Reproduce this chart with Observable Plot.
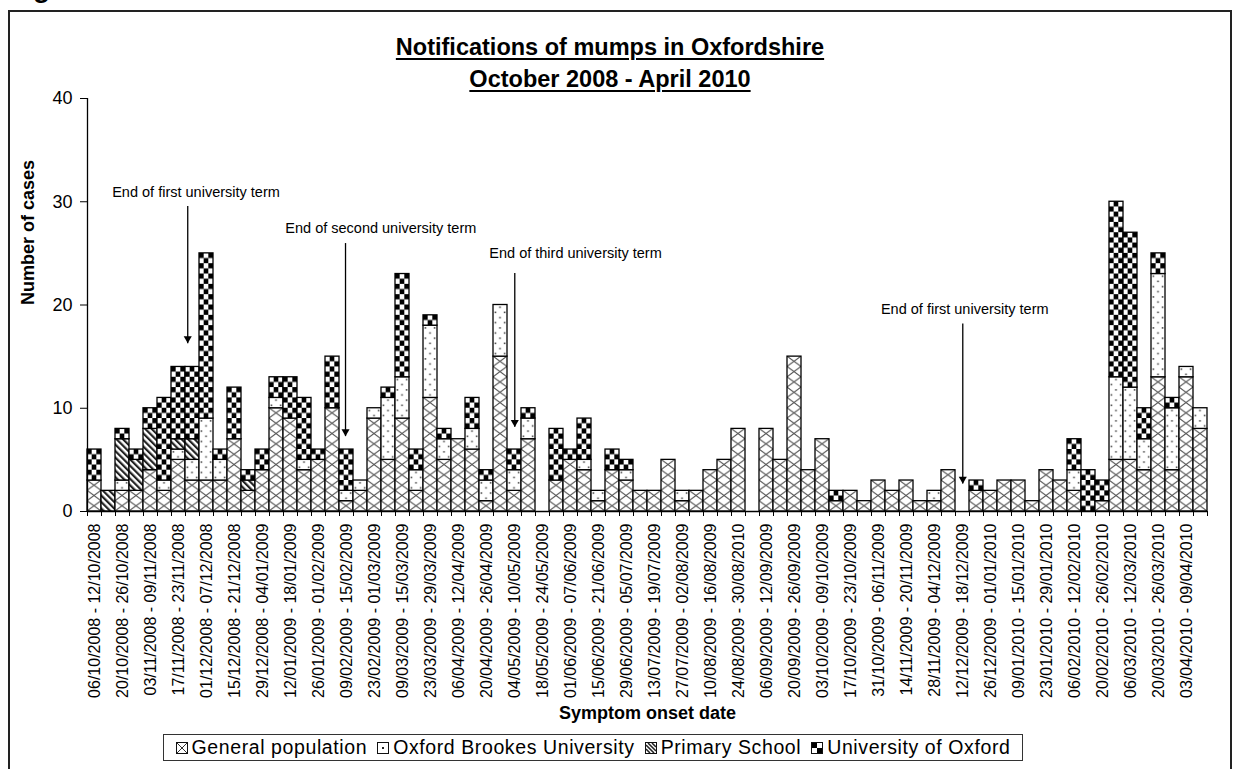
<!DOCTYPE html>
<html><head><meta charset="utf-8">
<script src="https://cdn.jsdelivr.net/npm/d3@7"></script>
<script src="https://cdn.jsdelivr.net/npm/@observablehq/plot@0.6"></script>
<style>
html,body{margin:0;padding:0}
body{width:1250px;height:769px;overflow:hidden;background:#fff;position:relative;font-family:"Liberation Sans",Arial,sans-serif;color:#000}
#frame{position:absolute;left:8px;top:10px;width:1224px;height:820px;border:2px solid #222;box-sizing:border-box}
#fig{position:absolute;left:8px;top:-26px;font-size:28px;line-height:28px;font-weight:bold;white-space:nowrap}
#title{position:absolute;left:0;top:31px;width:1220px;text-align:center;font-weight:bold;font-size:23.5px;line-height:32px}
#title span{text-decoration:underline;text-decoration-thickness:2px;text-underline-offset:3px}
#chart{position:absolute;left:0;top:90px}
#legend{position:absolute;left:163px;top:734px;width:860px;height:27px;border:1.5px solid #333;box-sizing:border-box;display:flex;align-items:center;justify-content:center;font-size:19.5px;letter-spacing:0.6px;white-space:nowrap;background:#fff}
#legend .item{display:flex;align-items:center;margin:0 5px}
#legend svg{margin-right:4px}
</style>
</head><body>
<div id="frame"></div>
<div id="fig">Figure 1</div>
<div id="title"><span>Notifications of mumps in Oxfordshire</span><br><span>October 2008 - April 2010</span></div>
<div id="chart"></div>
<div id="legend"></div>
<script>
// ---- data ----
const weekLabels = [
"06/10/2008 - 12/10/2008","20/10/2008 - 26/10/2008","03/11/2008 - 09/11/2008","17/11/2008 - 23/11/2008",
"01/12/2008 - 07/12/2008","15/12/2008 - 21/12/2008","29/12/2008 - 04/01/2009","12/01/2009 - 18/01/2009",
"26/01/2009 - 01/02/2009","09/02/2009 - 15/02/2009","23/02/2009 - 01/03/2009","09/03/2009 - 15/03/2009",
"23/03/2009 - 29/03/2009","06/04/2009 - 12/04/2009","20/04/2009 - 26/04/2009","04/05/2009 - 10/05/2009",
"18/05/2009 - 24/05/2009","01/06/2009 - 07/06/2009","15/06/2009 - 21/06/2009","29/06/2009 - 05/07/2009",
"13/07/2009 - 19/07/2009","27/07/2009 - 02/08/2009","10/08/2009 - 16/08/2009","24/08/2009 - 30/08/2010",
"06/09/2009 - 12/09/2009","20/09/2009 - 26/09/2009","03/10/2009 - 09/10/2009","17/10/2009 - 23/10/2009",
"31/10/2009 - 06/11/2009","14/11/2009 - 20/11/2009","28/11/2009 - 04/12/2009","12/12/2009 - 18/12/2009",
"26/12/2009 - 01/01/2010","09/01/2010 - 15/01/2010","23/01/2010 - 29/01/2010","06/02/2010 - 12/02/2010",
"20/02/2010 - 26/02/2010","06/03/2010 - 12/03/2010","20/03/2010 - 26/03/2010","03/04/2010 - 09/04/2010"];

const groups = ["General population","Oxford Brookes University","Primary School","University of Oxford"];

const generalPopulation = [3,0,2,2,4,2,5,3,3,3, 7,2,4,10,9,4,5,10,1,2, 9,5,9,2,11,5,7,6,1,15, 2,7,0,3,5,4,1,4,3,2,
  2,5,1,2,4,5,8,0,8,5, 15,4,7,1,2,1,3,2,3,1, 1,4,0,2,2,3,3,1,4,3, 2,0,1,5,5,4,13,4,13,8];
const oxfordBrookes = [0,0,1,0,0,1,1,2,6,2, 0,0,0,1,0,1,0,0,1,1, 1,6,4,2,7,2,0,2,2,5, 2,2,0,0,0,1,1,0,1,0,
  0,0,1,0,0,0,0,0,0,0, 0,0,0,0,0,0,0,0,0,0, 1,0,0,0,0,0,0,0,0,0, 2,0,0,8,7,3,10,6,1,2];
const primarySchool = [0,2,4,3,4,0,1,2,0,0, 0,1,0,0,0,0,0,0,0,0, 0,0,0,0,0,0,0,0,0,0, 0,0,0,0,0,0,0,0,0,0,
  0,0,0,0,0,0,0,0,0,0, 0,0,0,0,0,0,0,0,0,0, 0,0,0,0,0,0,0,0,0,0, 0,0,0,0,0,0,0,0,0,0];
const universityOfOxford = [3,0,1,1,2,8,7,7,16,1, 5,1,2,2,4,6,1,5,4,0, 0,1,10,2,1,1,0,3,1,0, 2,1,0,5,1,4,0,2,1,0,
  0,0,0,0,0,0,0,0,0,0, 0,0,0,1,0,0,0,0,0,0, 0,0,0,1,0,0,0,0,0,0, 3,4,2,17,15,3,2,1,0,0];

const yTicks = [0,10,20,30,40];

const annotText = ["End of first university term","End of second university term","End of third university term","End of first university term"];
const annotTextX = [7.75, 20.95, 34.86, 62.66];
const annotTextY = [30.9, 27.4, 25.0, 19.6];
const annotArrowX = [7.16, 18.43, 30.52, 62.52];
const annotArrowTop = [29.6, 26.0, 23.1, 18.2];
const annotArrowTip = [16.3, 7.3, 8.2, 2.7];

// ---- build ----
const nWeeks = generalPopulation.length;
const series = [generalPopulation, oxfordBrookes, primarySchool, universityOfOxford];
const segs = [];
for (let i = 0; i < nWeeks; i++) {
  let acc = 0;
  series.forEach((s, k) => {
    const v = s[i];
    if (v > 0) { segs.push({i, group: groups[k], y1: acc, y2: acc + v}); acc += v; }
  });
}
const annots = annotText.map((t, k) => ({text: t, tx: annotTextX[k], ty: annotTextY[k], ax: annotArrowX[k], atop: annotArrowTop[k], atip: annotArrowTip[k]}));
const labelPos = weekLabels.map((_, j) => 2 * j + 0.5);

const svg = Plot.plot({
  width: 1250, height: 640,
  marginLeft: 87, marginRight: 43, marginTop: 8, marginBottom: 219,
  style: {fontFamily: '"Liberation Sans", Arial, sans-serif', color: "black", background: "transparent", overflow: "visible"},
  x: {domain: [0, nWeeks]},
  y: {domain: [0, 40]},
  color: {domain: groups, range: ["url(#pGen)", "url(#pBro)", "url(#pPri)", "url(#pOxf)"]},
  marks: [
    Plot.rect(segs, {x1: "i", x2: d => d.i + 1, y1: "y1", y2: "y2", fill: "group", stroke: "black", strokeWidth: 1.3}),
    Plot.ruleY([0], {stroke: "black", strokeWidth: 1.3}),
    Plot.ruleX([0], {stroke: "black", strokeWidth: 1.3}),
    Plot.ruleX(d3.range(nWeeks + 1), {y1: 0, y2: 0, insetBottom: -5, stroke: "black", strokeWidth: 1}),
    Plot.axisY({ticks: yTicks, tickSize: 7, tickPadding: 8, fontSize: 18, label: null}),
    Plot.axisX({ticks: labelPos, tickSize: 0, tickRotate: -90, tickPadding: 12, fontSize: 16,
      tickFormat: v => weekLabels[Math.round((v - 0.5) / 2)], label: null}),
    Plot.text(["Number of cases"], {frameAnchor: "left", rotate: -90, dx: -59, fontWeight: "bold", fontSize: 18}),
    Plot.text(["Symptom onset date"], {frameAnchor: "bottom", dy: 207, fontWeight: "bold", fontSize: 18}),
    Plot.text(annots, {x: "tx", y: "ty", text: "text", fontSize: 14.5}),
    Plot.link(annots, {x1: "ax", x2: "ax", y1: "atop", y2: "atip", stroke: "black", strokeWidth: 1.3}),
    Plot.dot(annots, {x: "ax", y: "atip", symbol: "triangle", rotate: 180, r: 3, fill: "black", stroke: "none", dy: -4.5})
  ]
});

// ---- fill patterns ----
const defs = d3.select(svg).insert("defs", ":first-child");
const ox = 87, oy = 421;
let p = defs.append("pattern").attr("id", "pGen").attr("patternUnits", "userSpaceOnUse")
  .attr("x", ox).attr("y", oy).attr("width", 14).attr("height", 10.325);
p.append("rect").attr("width", 14).attr("height", 10.325).attr("fill", "white");
p.append("path").attr("d", "M0,0L14,10.325M14,0L0,10.325").attr("stroke", "#555").attr("stroke-width", 1.1);

p = defs.append("pattern").attr("id", "pBro").attr("patternUnits", "userSpaceOnUse")
  .attr("x", ox).attr("y", oy).attr("width", 9.333).attr("height", 10.325);
p.append("rect").attr("width", 9.333).attr("height", 10.325).attr("fill", "white");
p.append("rect").attr("x", 1.6).attr("y", 2).attr("width", 1.5).attr("height", 1.5).attr("fill", "#333");
p.append("rect").attr("x", 6.3).attr("y", 7.1).attr("width", 1.5).attr("height", 1.5).attr("fill", "#333");

p = defs.append("pattern").attr("id", "pPri").attr("patternUnits", "userSpaceOnUse")
  .attr("width", 4.6).attr("height", 4.6).attr("patternTransform", "rotate(-45)");
p.append("rect").attr("width", 4.6).attr("height", 4.6).attr("fill", "white");
p.append("rect").attr("width", 2.2).attr("height", 4.6).attr("fill", "#222");

p = defs.append("pattern").attr("id", "pOxf").attr("patternUnits", "userSpaceOnUse")
  .attr("x", ox).attr("y", oy).attr("width", 9.333).attr("height", 10.325);
p.append("rect").attr("width", 9.333).attr("height", 10.325).attr("fill", "white");
p.append("rect").attr("width", 4.667).attr("height", 5.163).attr("fill", "black");
p.append("rect").attr("x", 4.667).attr("y", 5.163).attr("width", 4.667).attr("height", 5.163).attr("fill", "black");

document.getElementById("chart").appendChild(svg);

// ---- legend ----
const swatchDraw = [
  g => { g.append("path").attr("d", "M1,1L11,11M11,1L1,11").attr("stroke", "#333").attr("stroke-width", 1); },
  g => { g.append("rect").attr("x", 5).attr("y", 5).attr("width", 2).attr("height", 2).attr("fill", "#222"); },
  g => { g.append("path").attr("d", "M1,3L9,11M1,7L5,11M3,1L11,9M7,1L11,5").attr("stroke", "#222").attr("stroke-width", 1.6); },
  g => { g.append("rect").attr("x", 1).attr("y", 1).attr("width", 5).attr("height", 5).attr("fill", "#000");
         g.append("rect").attr("x", 6).attr("y", 6).attr("width", 5).attr("height", 5).attr("fill", "#000"); }
];
const legend = d3.select("#legend");
groups.forEach((name, k) => {
  const item = legend.append("div").attr("class", "item");
  const s = item.append("svg").attr("width", 12).attr("height", 12);
  s.append("rect").attr("x", 0.5).attr("y", 0.5).attr("width", 11).attr("height", 11).attr("fill", "white").attr("stroke", "#111");
  swatchDraw[k](s);
  item.append("span").text(name);
});
</script>
</body></html>
